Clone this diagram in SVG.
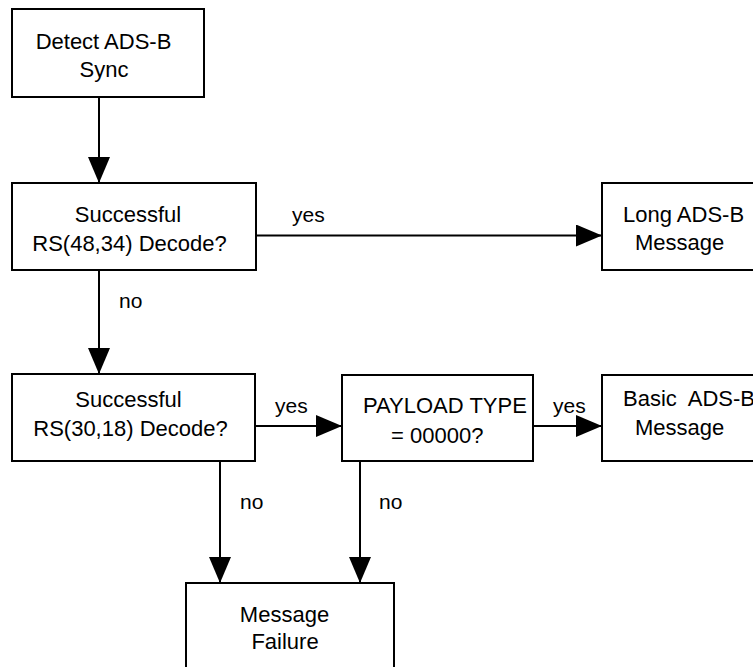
<svg xmlns="http://www.w3.org/2000/svg" width="753" height="667" viewBox="0 0 753 667">
<defs>
<style>
.box{fill:#fff;stroke:#000;stroke-width:2}
.t{font-family:"Liberation Sans",Arial,sans-serif;font-size:22px;fill:#000}
.c{text-anchor:middle}
.lbl{font-family:"Liberation Sans",Arial,sans-serif;font-size:21px;fill:#000}
.ln{fill:none;stroke:#000;stroke-width:2;marker-end:url(#ah)}
</style>
<marker id="ah" viewBox="0 0 26 22" refX="26" refY="11" markerWidth="26" markerHeight="22" markerUnits="userSpaceOnUse" orient="auto">
<path d="M0,0 L26,11 L0,22 Z" fill="#000"/>
</marker>
</defs>
<rect width="753" height="667" fill="#fff"/>
<g id="connectors">
<line class="ln" x1="99" y1="97" x2="99" y2="183"/>
<line class="ln" x1="256" y1="235.5" x2="602" y2="235.5"/>
<line class="ln" x1="99" y1="270" x2="99" y2="374"/>
<line class="ln" x1="255" y1="426" x2="342" y2="426"/>
<line class="ln" x1="533" y1="426" x2="602" y2="426"/>
<line class="ln" x1="220" y1="461" x2="220" y2="583"/>
<line class="ln" x1="360" y1="461" x2="360" y2="583"/>
<text class="lbl" x="292" y="222">yes</text>
<text class="lbl" x="119" y="308">no</text>
<text class="lbl" x="275" y="413">yes</text>
<text class="lbl" x="553" y="413">yes</text>
<text class="lbl" x="240" y="509">no</text>
<text class="lbl" x="379" y="509">no</text>
</g>
<g id="detect">
<rect class="box" x="12" y="9" width="192" height="88"/>
<text class="t c" x="103.5" y="49">Detect ADS-B</text>
<text class="t c" x="104" y="77">Sync</text>
</g>
<g id="rs48">
<rect class="box" x="12" y="183" width="244" height="87"/>
<text class="t c" x="128" y="222">Successful</text>
<text class="t c" x="129.5" y="251">RS(48,34) Decode?</text>
</g>
<g id="long">
<rect class="box" x="602" y="183" width="170" height="87"/>
<text class="t" x="623" y="221.5">Long ADS-B</text>
<text class="t" x="635" y="250">Message</text>
</g>
<g id="rs30">
<rect class="box" x="12" y="374" width="243" height="87"/>
<text class="t c" x="128.5" y="406.5">Successful</text>
<text class="t c" x="130.5" y="436">RS(30,18) Decode?</text>
</g>
<g id="payload">
<rect class="box" x="342" y="375" width="191" height="86"/>
<text class="t" x="363" y="413">PAYLOAD TYPE</text>
<text class="t" x="391" y="442.5">= 00000?</text>
</g>
<g id="basic">
<rect class="box" x="602" y="375" width="170" height="86"/>
<text class="t" x="623" y="405.5" xml:space="preserve">Basic  ADS-B</text>
<text class="t" x="635" y="435">Message</text>
</g>
<g id="failure">
<rect class="box" x="186" y="583" width="208" height="95"/>
<text class="t c" x="284.5" y="621.5">Message</text>
<text class="t c" x="285" y="649">Failure</text>
</g>
</svg>
